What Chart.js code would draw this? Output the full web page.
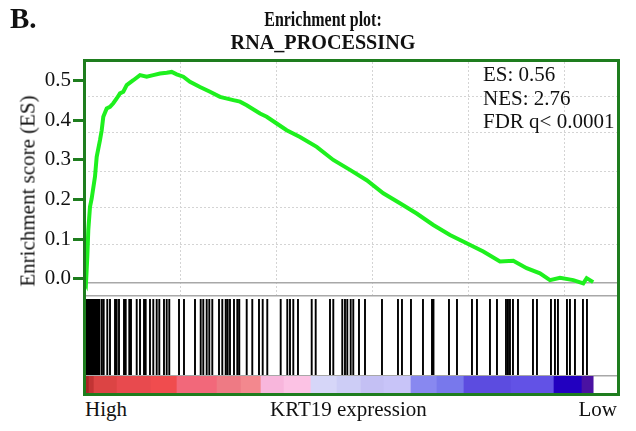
<!DOCTYPE html>
<html>
<head>
<meta charset="utf-8">
<script src="https://cdn.jsdelivr.net/npm/chart.js@4.4.1/dist/chart.umd.min.js"></script>
<style>
  body { margin:0; background:#fff; }
  #wrap { position:relative; width:636px; height:431px; overflow:hidden;
          font-family:"Liberation Serif","Times New Roman",serif; color:#111; }
  #wrap canvas { position:absolute; left:0; }
  .txt { position:absolute; white-space:nowrap; line-height:1; }
  .ttl { font-weight:bold; font-size:21px; left:173px; width:300px; text-align:center; transform-origin:50% 50%; }
  .note { font-size:21px; left:483px; }
  .foot { font-size:21px; top:399px; }
  #frame { position:absolute; left:83px; top:59px; width:537px; height:337px;
           border:3px solid #1e7d1e; box-sizing:border-box; pointer-events:none; }
</style>
</head>
<body>
<div id="wrap">
  <canvas id="esChart" width="636" height="300" style="top:0"></canvas>
  <canvas id="hitChart" width="636" height="80" style="top:296px"></canvas>
  <canvas id="heatChart" width="636" height="19" style="top:374px"></canvas>
  <div id="frame"></div>

  <div class="txt" style="left:10px;top:4px;font-weight:bold;font-size:29px;">B.</div>
  <div class="txt ttl" style="top:9px;transform:scaleX(0.76);">Enrichment plot:</div>
  <div class="txt ttl" style="top:32px;transform:scaleX(0.96);">RNA_PROCESSING</div>

  <div class="txt note" style="top:64px;">ES: 0.56</div>
  <div class="txt note" style="top:88px;">NES: 2.76</div>
  <div class="txt note" style="top:111px;">FDR q&lt; 0.0001</div>

  <div class="txt" style="left:28px;top:191px;font-size:21px;transform:translate(-50%,-50%) rotate(-90deg);">Enrichment score (ES)</div>

  <div class="txt foot" style="left:85px;">High</div>
  <div class="txt foot" style="left:270px;">KRT19 expression</div>
  <div class="txt foot" style="right:19px;">Low</div>
</div>

<script>
/* ranked list: gene rank on x */
const X_MAX = 27760;
const X_GRID = [5000, 10000, 15000, 20000, 25000];

/* enrichment score axis */
const Y_MIN = -0.043, Y_MAX = 0.547;
const ES_TICKS = [0, 0.1, 0.2, 0.3, 0.4, 0.5];
const ES_GRID = [-0.009, 0.086, 0.179, 0.272, 0.368, 0.461];

/* running enrichment score */
const esRank = [0,104,172,224,312,401,573,661,833,922,
  1005,1182,1354,1526,1703,1875,2047,2224,2568,2917,
  3265,3609,3958,4307,4567,4828,5172,5520,6041,6562,
  7083,7776,8125,8474,9166,9515,10036,10557,11249,12119,
  12984,13853,14723,15588,16457,17327,18192,19061,19931,20796,
  21665,22358,23055,23748,24269,24790,25483,26004,26180,26520];
const esScore = [0,-0.011,0.056,0.123,0.182,0.203,0.258,0.308,0.350,0.375,
  0.409,0.430,0.434,0.443,0.455,0.468,0.472,0.489,0.501,0.514,
  0.510,0.514,0.518,0.520,0.522,0.516,0.510,0.497,0.484,0.472,
  0.459,0.451,0.447,0.438,0.417,0.409,0.392,0.375,0.358,0.333,
  0.300,0.275,0.249,0.216,0.191,0.165,0.136,0.111,0.090,0.069,
  0.044,0.046,0.027,0.014,-0.003,0.003,-0.003,-0.011,0.002,-0.008];

/* positions of gene-set members in the ranked list */
const hitRanks = [60,110,160,210,260,310,360,410,460,510,560,610,660,710,760,
  797,922,1026,1213,1354,1615,1703,1823,2083,2172,2359,2448,2745,2917,3125,
  3213,3437,3609,3786,3922,4166,4307,4442,4948,5208,5781,6078,6213,6390,6526,
  6682,7031,7203,7380,7484,7604,7812,7984,8088,8474,8765,9114,9307,9546,10244,
  10588,10729,10901,11145,11859,12067,12812,12984,13452,13593,13713,13890,14025,14322,14635,
  15520,16353,16561,17030,17655,18124,18202,19009,19426,20207,20467,21144,21509,21978,22082,
  22186,22342,22603,23384,23592,24321,24529,24685,25154,25310,25571,25987,26196];

/* ranked-metric colour bar */
const heatEdges = [0,260,521,1719,3489,4843,6927,8177,9218,10416,11822,13176,
  14426,15624,17030,18384,19790,22238,24478,25936,26520];
const heatColors = ['#a82424','#c23434','#dc4444','#e84a4e','#f04c4e','#f2687a','#ee7a84',
  '#f3888e','#f8b6dc','#fcc2e4','#d6d6f8','#cdcdf6','#c4c0f4','#c8c4f8','#8888f0',
  '#7878ec','#5c4ce0','#6252e6','#2200c0','#4a12a2'];

const SERIF = 'Liberation Serif';
const FRAME_GREEN = '#1e7d1e';
const setTicks = vals => s => { s.ticks = vals.map(v => ({ value: v })); };
const noPad = s => { s.paddingTop = 0; s.paddingBottom = 0; s.paddingLeft = 0; s.paddingRight = 0; };

/* enrichment score panel */
new Chart(document.getElementById('esChart'), {
  type: 'line',
  data: { datasets: [{
    data: esRank.map((r, i) => ({ x: r, y: esScore[i] })),
    borderColor: '#1ef01e', borderWidth: 4, pointRadius: 0, tension: 0, yAxisID: 'y'
  }]},
  options: {
    responsive: false, animation: false, events: [],
    layout: { padding: { top: 62, right: 19, bottom: 4, left: 0 } },
    plugins: { legend: { display: false }, tooltip: { enabled: false } },
    scales: {
      x: {
        type: 'linear', min: 0, max: X_MAX,
        afterBuildTicks: setTicks(X_GRID),
        ticks: { display: false },
        grid: { color: '#d4d4d4', lineWidth: 1, drawTicks: false },
        border: { display: true, color: '#a8a8a8', width: 1.5, dash: [2, 2] },
        afterFit: s => { s.height = 0; noPad(s); }
      },
      y: {
        type: 'linear', position: 'left', min: Y_MIN, max: Y_MAX,
        afterBuildTicks: setTicks(ES_TICKS),
        ticks: { callback: v => Number(v).toFixed(1), color: '#111', padding: 2,
                 font: { family: SERIF, size: 21 } },
        grid: { drawOnChartArea: false, tickLength: 11, tickColor: FRAME_GREEN, tickWidth: 3 },
        border: { display: false },
        afterFit: s => { s.width = 84; noPad(s); }
      },
      yGrid: {
        type: 'linear', position: 'right', min: Y_MIN, max: Y_MAX,
        afterBuildTicks: setTicks(ES_GRID),
        ticks: { display: false },
        grid: {
          drawTicks: false,
          color: c => (c.tick && c.tick.value === ES_GRID[0]) ? '#a8a8a8' : '#d4d4d4',
          lineWidth: c => (c.tick && c.tick.value === ES_GRID[0]) ? 1.5 : 1
        },
        border: { display: false,
          dash: c => (c.tick && c.tick.value === ES_GRID[0]) ? [] : [2, 2] },
        afterFit: s => { s.width = 0; noPad(s); }
      }
    }
  }
});

/* hit lines */
const hitData = [];
hitRanks.forEach(r => { hitData.push({ x: r, y: 0 }, { x: r, y: 1 }, { x: r, y: null }); });
new Chart(document.getElementById('hitChart'), {
  type: 'line',
  data: { datasets: [{
    data: hitData, borderColor: '#000', borderWidth: 1.9, pointRadius: 0, spanGaps: false
  }]},
  options: {
    responsive: false, animation: false, events: [],
    layout: { padding: { top: 3, right: 19, bottom: 0, left: 84 } },
    plugins: { legend: { display: false }, tooltip: { enabled: false } },
    scales: {
      x: { type: 'linear', min: 0, max: X_MAX, display: false },
      y: { type: 'linear', min: 0, max: 1, display: false }
    }
  }
});

/* ranked list metric bar */
new Chart(document.getElementById('heatChart'), {
  type: 'bar',
  data: {
    labels: ['rank'],
    datasets: [{
      data: heatColors.map((c, i) => ({ y: 'rank', x: [heatEdges[i], heatEdges[i + 1]] })),
      backgroundColor: heatColors, borderWidth: 0,
      barPercentage: 1, categoryPercentage: 1
    }]
  },
  options: {
    indexAxis: 'y',
    responsive: false, animation: false, events: [],
    layout: { padding: { top: 2, right: 19, bottom: 0, left: 84 } },
    plugins: { legend: { display: false }, tooltip: { enabled: false } },
    scales: {
      x: {
        type: 'linear', position: 'top', min: 0, max: X_MAX,
        ticks: { display: false },
        grid: { display: false },
        border: { display: true, color: '#a8a8a8', width: 1.5 },
        afterFit: s => { s.height = 0; noPad(s); }
      },
      y: { type: 'category', display: false }
    }
  }
});
</script>
</body>
</html>
